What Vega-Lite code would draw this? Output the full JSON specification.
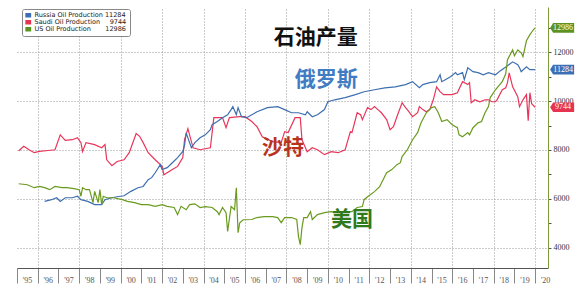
{
  "$schema": "https://vega.github.io/schema/vega-lite/v6.json",
  "autosize": {"type": "none"},
  "width": 531,
  "height": 261,
  "padding": {"left": 17, "top": 7, "right": 39, "bottom": 28},
  "background": "white",
  "config": {"view": {"stroke": null}},
  "resolve": {"axis": {"x": "independent", "y": "independent"}},
  "datasets": {
    "oil": [
      {"s":"Saudi","d":"1995-02","v":7970},{"s":"Saudi","d":"1995-05","v":8150},{"s":"Saudi","d":"1995-08","v":8010},{"s":"Saudi","d":"1995-11","v":7890},
      {"s":"Saudi","d":"1996-02","v":7940},{"s":"Saudi","d":"1996-07","v":7980},{"s":"Saudi","d":"1996-11","v":8010},{"s":"Saudi","d":"1997-02","v":8620},
      {"s":"Saudi","d":"1997-05","v":8390},{"s":"Saudi","d":"1997-09","v":8420},{"s":"Saudi","d":"1997-12","v":8500},{"s":"Saudi","d":"1998-02","v":8300},
      {"s":"Saudi","d":"1998-03","v":7940},{"s":"Saudi","d":"1998-05","v":8300},{"s":"Saudi","d":"1998-10","v":8220},{"s":"Saudi","d":"1999-02","v":8090},
      {"s":"Saudi","d":"1999-04","v":8220},{"s":"Saudi","d":"1999-05","v":7600},{"s":"Saudi","d":"1999-08","v":7360},{"s":"Saudi","d":"1999-11","v":7530},
      {"s":"Saudi","d":"2000-03","v":7600},{"s":"Saudi","d":"2000-06","v":7890},{"s":"Saudi","d":"2000-10","v":8670},{"s":"Saudi","d":"2000-12","v":8560},
      {"s":"Saudi","d":"2001-02","v":8300},{"s":"Saudi","d":"2001-05","v":7890},{"s":"Saudi","d":"2001-09","v":7600},{"s":"Saudi","d":"2002-01","v":7330},
      {"s":"Saudi","d":"2002-02","v":6990},{"s":"Saudi","d":"2002-07","v":7200},{"s":"Saudi","d":"2002-10","v":7330},{"s":"Saudi","d":"2003-01","v":7690},
      {"s":"Saudi","d":"2003-02","v":8420},{"s":"Saudi","d":"2003-04","v":8870},{"s":"Saudi","d":"2003-07","v":8090},{"s":"Saudi","d":"2003-11","v":8010},
      {"s":"Saudi","d":"2004-05","v":8090},{"s":"Saudi","d":"2004-07","v":9320},{"s":"Saudi","d":"2004-12","v":9320},{"s":"Saudi","d":"2005-02","v":8910},
      {"s":"Saudi","d":"2005-04","v":9320},{"s":"Saudi","d":"2005-10","v":9360},{"s":"Saudi","d":"2006-01","v":9360},{"s":"Saudi","d":"2006-05","v":9160},
      {"s":"Saudi","d":"2006-08","v":8950},{"s":"Saudi","d":"2006-11","v":8540},{"s":"Saudi","d":"2007-05","v":8340},{"s":"Saudi","d":"2007-10","v":8300},
      {"s":"Saudi","d":"2007-12","v":8750},{"s":"Saudi","d":"2008-02","v":8710},{"s":"Saudi","d":"2008-06","v":9320},{"s":"Saudi","d":"2008-09","v":9320},
      {"s":"Saudi","d":"2008-10","v":8420},{"s":"Saudi","d":"2009-01","v":7930},{"s":"Saudi","d":"2009-04","v":8090},{"s":"Saudi","d":"2009-07","v":8010},
      {"s":"Saudi","d":"2009-11","v":7810},{"s":"Saudi","d":"2010-03","v":7930},{"s":"Saudi","d":"2010-07","v":7890},{"s":"Saudi","d":"2010-11","v":8010},
      {"s":"Saudi","d":"2011-02","v":8750},{"s":"Saudi","d":"2011-03","v":8710},{"s":"Saudi","d":"2011-06","v":9520},{"s":"Saudi","d":"2011-08","v":9440},
      {"s":"Saudi","d":"2011-09","v":9240},{"s":"Saudi","d":"2011-12","v":9730},{"s":"Saudi","d":"2012-02","v":9650},{"s":"Saudi","d":"2012-04","v":9770},
      {"s":"Saudi","d":"2012-06","v":9650},{"s":"Saudi","d":"2012-08","v":9520},{"s":"Saudi","d":"2012-11","v":9240},{"s":"Saudi","d":"2013-01","v":8830},
      {"s":"Saudi","d":"2013-03","v":8950},{"s":"Saudi","d":"2013-05","v":9360},{"s":"Saudi","d":"2013-08","v":9930},{"s":"Saudi","d":"2013-10","v":9730},
      {"s":"Saudi","d":"2013-11","v":9650},{"s":"Saudi","d":"2014-02","v":9360},{"s":"Saudi","d":"2014-05","v":9520},{"s":"Saudi","d":"2014-06","v":9770},
      {"s":"Saudi","d":"2014-08","v":9650},{"s":"Saudi","d":"2014-10","v":9560},{"s":"Saudi","d":"2014-12","v":9650},{"s":"Saudi","d":"2015-02","v":10050},
      {"s":"Saudi","d":"2015-04","v":10580},{"s":"Saudi","d":"2015-06","v":10380},{"s":"Saudi","d":"2015-08","v":10260},{"s":"Saudi","d":"2015-11","v":10260},
      {"s":"Saudi","d":"2016-01","v":10260},{"s":"Saudi","d":"2016-04","v":10340},{"s":"Saudi","d":"2016-07","v":10790},{"s":"Saudi","d":"2016-10","v":10670},
      {"s":"Saudi","d":"2016-11","v":10750},{"s":"Saudi","d":"2016-12","v":9930},{"s":"Saudi","d":"2017-02","v":10050},{"s":"Saudi","d":"2017-05","v":9970},
      {"s":"Saudi","d":"2017-08","v":10050},{"s":"Saudi","d":"2017-10","v":10050},{"s":"Saudi","d":"2017-12","v":9970},{"s":"Saudi","d":"2018-02","v":9970},
      {"s":"Saudi","d":"2018-03","v":10050},{"s":"Saudi","d":"2018-06","v":10460},{"s":"Saudi","d":"2018-08","v":10540},{"s":"Saudi","d":"2018-09","v":10750},
      {"s":"Saudi","d":"2018-10","v":11150},{"s":"Saudi","d":"2018-12","v":10580},{"s":"Saudi","d":"2019-03","v":10180},{"s":"Saudi","d":"2019-04","v":9770},
      {"s":"Saudi","d":"2019-06","v":10050},{"s":"Saudi","d":"2019-08","v":10260},{"s":"Saudi","d":"2019-09","v":9200},{"s":"Saudi","d":"2019-10","v":10340},
      {"s":"Saudi","d":"2019-11","v":9890},{"s":"Saudi","d":"2020-01","v":9744},

      {"s":"Russia","d":"1996-05","v":5900},{"s":"Russia","d":"1996-09","v":5970},{"s":"Russia","d":"1996-12","v":6050},{"s":"Russia","d":"1997-02","v":5900},
      {"s":"Russia","d":"1997-05","v":6050},{"s":"Russia","d":"1997-09","v":6050},{"s":"Russia","d":"1997-12","v":6110},{"s":"Russia","d":"1998-02","v":5970},
      {"s":"Russia","d":"1998-06","v":5900},{"s":"Russia","d":"1998-10","v":5770},{"s":"Russia","d":"1999-02","v":5770},{"s":"Russia","d":"1999-04","v":5970},
      {"s":"Russia","d":"1999-08","v":6050},{"s":"Russia","d":"1999-11","v":6090},{"s":"Russia","d":"2000-03","v":6130},{"s":"Russia","d":"2000-07","v":6310},
      {"s":"Russia","d":"2000-11","v":6460},{"s":"Russia","d":"2001-02","v":6510},{"s":"Russia","d":"2001-05","v":6790},{"s":"Russia","d":"2001-07","v":6870},
      {"s":"Russia","d":"2001-09","v":7070},{"s":"Russia","d":"2001-12","v":7400},{"s":"Russia","d":"2002-01","v":7200},{"s":"Russia","d":"2002-04","v":7280},
      {"s":"Russia","d":"2002-07","v":7480},{"s":"Russia","d":"2002-10","v":7690},{"s":"Russia","d":"2003-01","v":7940},{"s":"Russia","d":"2003-02","v":8200},
      {"s":"Russia","d":"2003-03","v":8700},{"s":"Russia","d":"2003-06","v":8090},{"s":"Russia","d":"2003-08","v":8300},{"s":"Russia","d":"2003-11","v":8500},
      {"s":"Russia","d":"2004-02","v":8620},{"s":"Russia","d":"2004-05","v":8830},{"s":"Russia","d":"2004-06","v":9030},{"s":"Russia","d":"2004-09","v":9160},
      {"s":"Russia","d":"2004-12","v":9320},{"s":"Russia","d":"2005-03","v":9440},{"s":"Russia","d":"2005-05","v":9650},{"s":"Russia","d":"2005-06","v":9770},
      {"s":"Russia","d":"2005-08","v":9440},{"s":"Russia","d":"2005-09","v":9730},{"s":"Russia","d":"2005-11","v":9360},{"s":"Russia","d":"2006-02","v":9320},
      {"s":"Russia","d":"2006-05","v":9440},{"s":"Russia","d":"2006-08","v":9560},{"s":"Russia","d":"2007-02","v":9730},{"s":"Russia","d":"2007-08","v":9770},
      {"s":"Russia","d":"2007-12","v":9650},{"s":"Russia","d":"2008-04","v":9520},{"s":"Russia","d":"2008-08","v":9520},{"s":"Russia","d":"2008-12","v":9440},
      {"s":"Russia","d":"2009-01","v":9560},{"s":"Russia","d":"2009-04","v":9360},{"s":"Russia","d":"2009-07","v":9440},{"s":"Russia","d":"2009-11","v":9650},
      {"s":"Russia","d":"2010-01","v":9970},{"s":"Russia","d":"2010-05","v":10050},{"s":"Russia","d":"2010-11","v":10140},{"s":"Russia","d":"2011-05","v":10260},
      {"s":"Russia","d":"2011-10","v":10380},{"s":"Russia","d":"2012-04","v":10460},{"s":"Russia","d":"2012-10","v":10540},{"s":"Russia","d":"2013-04","v":10580},
      {"s":"Russia","d":"2013-10","v":10670},{"s":"Russia","d":"2014-02","v":10790},{"s":"Russia","d":"2014-06","v":10540},{"s":"Russia","d":"2014-08","v":10670},
      {"s":"Russia","d":"2014-12","v":10750},{"s":"Russia","d":"2015-04","v":10790},{"s":"Russia","d":"2015-06","v":11070},{"s":"Russia","d":"2015-07","v":10790},
      {"s":"Russia","d":"2015-09","v":10870},{"s":"Russia","d":"2015-12","v":10990},{"s":"Russia","d":"2016-03","v":11160},{"s":"Russia","d":"2016-04","v":11070},
      {"s":"Russia","d":"2016-07","v":11160},{"s":"Russia","d":"2016-08","v":10870},{"s":"Russia","d":"2016-10","v":11360},{"s":"Russia","d":"2017-01","v":11200},
      {"s":"Russia","d":"2017-04","v":11160},{"s":"Russia","d":"2017-07","v":11070},{"s":"Russia","d":"2017-10","v":11160},{"s":"Russia","d":"2018-02","v":11070},
      {"s":"Russia","d":"2018-05","v":11240},{"s":"Russia","d":"2018-09","v":11440},{"s":"Russia","d":"2018-12","v":11600},{"s":"Russia","d":"2019-03","v":11480},
      {"s":"Russia","d":"2019-04","v":11360},{"s":"Russia","d":"2019-05","v":11200},{"s":"Russia","d":"2019-08","v":11400},{"s":"Russia","d":"2019-10","v":11280},
      {"s":"Russia","d":"2020-01","v":11284},

      {"s":"US","d":"1995-02","v":6620},{"s":"US","d":"1995-07","v":6580},{"s":"US","d":"1995-11","v":6460},{"s":"US","d":"1996-02","v":6510},
      {"s":"US","d":"1996-05","v":6460},{"s":"US","d":"1996-08","v":6380},{"s":"US","d":"1996-11","v":6510},{"s":"US","d":"1997-03","v":6460},
      {"s":"US","d":"1997-06","v":6460},{"s":"US","d":"1997-10","v":6420},{"s":"US","d":"1998-01","v":6380},{"s":"US","d":"1998-02","v":6110},
      {"s":"US","d":"1998-03","v":6460},{"s":"US","d":"1998-05","v":6380},{"s":"US","d":"1998-07","v":6380},{"s":"US","d":"1998-09","v":5850},
      {"s":"US","d":"1998-10","v":6310},{"s":"US","d":"1998-12","v":5850},{"s":"US","d":"1999-01","v":6380},{"s":"US","d":"1999-02","v":5770},
      {"s":"US","d":"1999-03","v":6110},{"s":"US","d":"1999-05","v":6050},{"s":"US","d":"1999-09","v":6050},{"s":"US","d":"2000-02","v":5970},
      {"s":"US","d":"2000-05","v":5900},{"s":"US","d":"2000-09","v":5850},{"s":"US","d":"2001-01","v":5770},{"s":"US","d":"2001-05","v":5770},
      {"s":"US","d":"2001-09","v":5700},{"s":"US","d":"2002-01","v":5770},{"s":"US","d":"2002-04","v":5700},{"s":"US","d":"2002-08","v":5650},
      {"s":"US","d":"2002-10","v":5360},{"s":"US","d":"2002-12","v":5700},{"s":"US","d":"2003-03","v":5560},{"s":"US","d":"2003-05","v":5770},
      {"s":"US","d":"2003-08","v":5800},{"s":"US","d":"2003-11","v":5650},{"s":"US","d":"2004-02","v":5690},{"s":"US","d":"2004-06","v":5650},
      {"s":"US","d":"2004-09","v":5480},{"s":"US","d":"2004-10","v":5360},{"s":"US","d":"2004-12","v":5650},{"s":"US","d":"2005-02","v":5440},
      {"s":"US","d":"2005-03","v":4670},{"s":"US","d":"2005-05","v":5690},{"s":"US","d":"2005-07","v":5560},{"s":"US","d":"2005-08","v":6460},
      {"s":"US","d":"2005-09","v":4620},{"s":"US","d":"2005-10","v":5030},{"s":"US","d":"2005-12","v":5150},{"s":"US","d":"2006-05","v":5160},
      {"s":"US","d":"2006-08","v":5240},{"s":"US","d":"2006-12","v":5280},{"s":"US","d":"2007-05","v":5280},{"s":"US","d":"2007-08","v":5240},
      {"s":"US","d":"2007-10","v":5030},{"s":"US","d":"2007-12","v":5240},{"s":"US","d":"2008-04","v":5240},{"s":"US","d":"2008-07","v":5160},
      {"s":"US","d":"2008-08","v":4460},{"s":"US","d":"2008-09","v":4130},{"s":"US","d":"2008-10","v":4830},{"s":"US","d":"2008-11","v":5240},
      {"s":"US","d":"2009-01","v":5240},{"s":"US","d":"2009-03","v":5480},{"s":"US","d":"2009-04","v":5160},{"s":"US","d":"2009-07","v":5360},
      {"s":"US","d":"2009-11","v":5440},{"s":"US","d":"2010-03","v":5480},{"s":"US","d":"2010-07","v":5440},{"s":"US","d":"2010-11","v":5480},
      {"s":"US","d":"2011-03","v":5480},{"s":"US","d":"2011-06","v":5650},{"s":"US","d":"2011-09","v":5690},{"s":"US","d":"2011-10","v":5970},
      {"s":"US","d":"2011-12","v":6090},{"s":"US","d":"2012-04","v":6300},{"s":"US","d":"2012-07","v":6500},{"s":"US","d":"2012-11","v":7070},
      {"s":"US","d":"2013-02","v":7200},{"s":"US","d":"2013-05","v":7400},{"s":"US","d":"2013-07","v":7480},{"s":"US","d":"2013-08","v":7730},
      {"s":"US","d":"2013-11","v":8010},{"s":"US","d":"2014-02","v":8420},{"s":"US","d":"2014-05","v":8710},{"s":"US","d":"2014-07","v":9110},
      {"s":"US","d":"2014-10","v":9520},{"s":"US","d":"2015-01","v":9730},{"s":"US","d":"2015-03","v":9770},{"s":"US","d":"2015-05","v":9520},
      {"s":"US","d":"2015-07","v":9160},{"s":"US","d":"2015-10","v":9240},{"s":"US","d":"2016-01","v":9030},{"s":"US","d":"2016-04","v":8910},
      {"s":"US","d":"2016-05","v":8620},{"s":"US","d":"2016-07","v":8540},{"s":"US","d":"2016-10","v":8710},{"s":"US","d":"2016-11","v":8620},
      {"s":"US","d":"2017-01","v":8910},{"s":"US","d":"2017-04","v":9110},{"s":"US","d":"2017-06","v":9160},{"s":"US","d":"2017-08","v":9520},
      {"s":"US","d":"2017-10","v":9770},{"s":"US","d":"2017-11","v":10140},{"s":"US","d":"2018-02","v":10460},{"s":"US","d":"2018-03","v":10540},
      {"s":"US","d":"2018-06","v":10790},{"s":"US","d":"2018-08","v":11110},{"s":"US","d":"2018-09","v":11690},{"s":"US","d":"2018-12","v":12090},
      {"s":"US","d":"2019-01","v":11850},{"s":"US","d":"2019-03","v":12090},{"s":"US","d":"2019-05","v":11970},{"s":"US","d":"2019-06","v":11810},
      {"s":"US","d":"2019-08","v":12460},{"s":"US","d":"2019-10","v":12710},{"s":"US","d":"2019-12","v":12910},{"s":"US","d":"2020-01","v":12986}
    ]
  },
  "layer": [
    {
      "data": {"values": [{"t": "石油产量", "d": "2009-06", "v": 12590}]},
      "mark": {"type": "text", "font": "Noto Sans CJK SC", "fontWeight": "bold", "fontSize": 21, "color": "#111", "align": "center", "baseline": "middle"},
      "encoding": {
        "x": {
          "field": "d", "type": "temporal",
          "scale": {"type": "utc", "domain": [{"year": 1995, "month": 1, "date": 1, "utc": true}, {"year": 2020, "month": 8, "date": 15, "utc": true}]},
          "axis": {
            "title": null, "orient": "top", "labels": false, "ticks": false, "domain": false,
            "values": [
              {"year": 1996, "utc": true}, {"year": 1998, "utc": true}, {"year": 2000, "utc": true}, {"year": 2002, "utc": true},
              {"year": 2004, "utc": true}, {"year": 2006, "utc": true}, {"year": 2008, "utc": true}, {"year": 2010, "utc": true},
              {"year": 2012, "utc": true}, {"year": 2014, "utc": true}, {"year": 2016, "utc": true}, {"year": 2018, "utc": true},
              {"year": 2020, "utc": true}
            ],
            "grid": true, "gridColor": "#999", "gridDash": [1, 2]
          }
        },
        "y": {
          "field": "v", "type": "quantitative",
          "scale": {"domain": [3180, 13840], "zero": false, "nice": false},
          "axis": {
            "title": null, "orient": "left", "labels": false, "ticks": false, "domain": false,
            "values": [4000, 6000, 8000, 10000, 12000],
            "grid": true, "gridColor": "#999", "gridDash": [1, 2]
          }
        },
        "text": {"field": "t"}
      }
    },
    {
      "data": {"name": "oil", "format": {"parse": {"d": "date"}}},
      "mark": {"type": "line", "strokeWidth": 1.2},
      "encoding": {
        "x": {
          "field": "d", "type": "temporal",
          "axis": {
            "title": null, "orient": "bottom", "format": "'%y",
            "tickCount": {"interval": "year", "step": 1},
            "labelOffset": 10, "labelAlign": "center", "labelFlush": false, "labelOverlap": false, "labelBound": false,
            "labelFont": "Liberation Serif", "labelFontSize": 8, "labelColor": "#555", "labelPadding": -7, "labelBaseline": "top",
            "tickSize": 15, "tickColor": "#888", "domainColor": "#555", "grid": false
          }
        },
        "y": {
          "field": "v", "type": "quantitative",
          "axis": {
            "title": null, "orient": "right",
            "values": [4000, 5000, 6000, 7000, 8000, 9000, 10000, 11000, 12000, 13000],
            "format": "d",
            "labelExpr": "datum.value % 2000 == 0 ? datum.label : ''",
            "labelFont": "Liberation Serif", "labelFontSize": 8, "labelColor": "#333", "labelPadding": 2,
            "tickSize": 3, "tickColor": "#555", "domainColor": "#7f9a3a", "grid": false
          }
        },
        "color": {
          "field": "s", "type": "nominal",
          "scale": {"domain": ["US", "Saudi", "Russia"], "range": ["#6a9b1f", "#e8365b", "#3d6fb0"]},
          "legend": null
        }
      }
    },
    {
      "data": {"name": "oil", "format": {"parse": {"d": "date"}}},
      "transform": [{"filter": "utcyear(datum.d) == 2020"}],
      "mark": {"type": "point", "shape": "M-1,0L-0.75,-0.4L1,-0.4L1,0.4L-0.75,0.4Z", "size": 576, "filled": true, "opacity": 1, "xOffset": 27, "strokeWidth": 0},
      "encoding": {
        "x": {"field": "d", "type": "temporal", "axis": null},
        "y": {"field": "v", "type": "quantitative", "axis": null},
        "fill": {
          "field": "s", "type": "nominal",
          "scale": {"domain": ["Russia", "Saudi", "US"], "range": ["#3a6fb5", "#e6334f", "#5b9320"]},
          "legend": {
            "title": null, "orient": "none", "legendX": 5, "legendY": 2,
            "symbolType": "M-1.3,-1L1.3,-1L1.3,1L-1.3,1Z", "symbolSize": 20, "symbolStrokeWidth": 0, "symbolOpacity": 1,
            "labelFont": "DejaVu Sans", "labelFontSize": 6.5, "labelColor": "#222", "labelOffset": 3,
            "rowPadding": 0, "padding": 3, "strokeColor": "#888", "fillColor": "white", "cornerRadius": 2,
            "labelExpr": "datum.label == 'Russia' ? 'Russia Oil Production\u00a011284' : datum.label == 'Saudi' ? 'Saudi Oil Production\u00a0\u00a0\u00a0\u00a0\u20099744' : 'US Oil Production\u00a0\u00a0\u00a0\u00a0\u00a0\u00a0\u00a012986'"
          }
        }
      }
    },
    {
      "data": {"name": "oil", "format": {"parse": {"d": "date"}}},
      "transform": [{"filter": "utcyear(datum.d) == 2020"}],
      "mark": {"type": "text", "color": "white", "font": "Liberation Serif", "fontSize": 8, "dx": 28, "align": "center", "baseline": "middle"},
      "encoding": {
        "x": {"field": "d", "type": "temporal", "axis": null},
        "y": {"field": "v", "type": "quantitative", "axis": null},
        "text": {"field": "v", "type": "quantitative", "format": "d"}
      }
    },
    {
      "data": {"values": [{"t": "俄罗斯", "d": "2009-12", "v": 10860}]},
      "mark": {"type": "text", "font": "Noto Sans CJK SC", "fontWeight": "bold", "fontSize": 21, "color": "#3f7cc4", "align": "center", "baseline": "middle"},
      "encoding": {"x": {"field": "d", "type": "temporal", "axis": null}, "y": {"field": "v", "type": "quantitative", "axis": null}, "text": {"field": "t"}}
    },
    {
      "data": {"values": [{"t": "沙特", "d": "2007-11", "v": 8080}]},
      "mark": {"type": "text", "font": "Noto Sans CJK SC", "fontWeight": "bold", "fontSize": 21, "color": "#b8321e", "align": "center", "baseline": "middle"},
      "encoding": {"x": {"field": "d", "type": "temporal", "axis": null}, "y": {"field": "v", "type": "quantitative", "axis": null}, "text": {"field": "t"}}
    },
    {
      "data": {"values": [{"t": "美国", "d": "2011-03", "v": 5140}]},
      "mark": {"type": "text", "font": "Noto Sans CJK SC", "fontWeight": "bold", "fontSize": 21, "color": "#2f7a1c", "align": "center", "baseline": "middle"},
      "encoding": {"x": {"field": "d", "type": "temporal", "axis": null}, "y": {"field": "v", "type": "quantitative", "axis": null}, "text": {"field": "t"}}
    }
  ]
}
